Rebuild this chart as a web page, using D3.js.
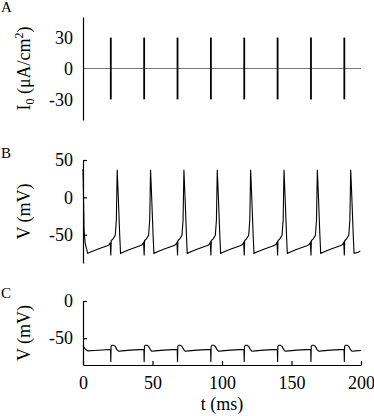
<!DOCTYPE html>
<html>
<head>
<meta charset="utf-8">
<script src="https://cdn.jsdelivr.net/npm/d3@7"></script>
<style>
body { margin: 0; background: #fff; }
svg { display: block; }
</style>
</head>
<body>
<div id="chart"></div>
<script>
// stimulus pulses (ms) and their amplitude (uA/cm2)
var pulseTimes = [20, 44, 68, 92, 116, 140, 164, 188];
var pulseAmp = [-30, 30];

var ticksA = [-30, 0, 30];
var ticksB = [-50, 0, 50];
var ticksC = [-50, 0];
var ticksT = [0, 50, 100, 150, 200];

// B: membrane potential, firing
var traceB = [
  [0, 38], [0.8, -45], [1.6, -62], [3.4, -75], [6.4, -72.5], [10.4, -69.5], [14.4, -67], [17.4, -65], [18.9, -63.5], [19.6, -60.5],
  [20, -78], [20.3, -58], [21.5, -56], [23.2, -51], [24, -30], [24.6, 37], [25.4, 0], [26.4, -50], [27, -75], [30, -72.5], [34, -69.5], [38, -67], [41, -65], [42.5, -63.5], [43.6, -60.5],
  [44, -78], [44.3, -58], [45.5, -56], [47.2, -51], [48, -30], [48.6, 37], [49.4, 0], [50.4, -50], [51, -75], [54, -72.5], [58, -69.5], [62, -67], [65, -65], [66.5, -63.5], [67.6, -60.5],
  [68, -78], [68.3, -58], [69.5, -56], [71.2, -51], [72, -30], [72.6, 37], [73.4, 0], [74.4, -50], [75, -75], [78, -72.5], [82, -69.5], [86, -67], [89, -65], [90.5, -63.5], [91.6, -60.5],
  [92, -78], [92.3, -58], [93.5, -56], [95.2, -51], [96, -30], [96.6, 37], [97.4, 0], [98.4, -50], [99, -75], [102, -72.5], [106, -69.5], [110, -67], [113, -65], [114.5, -63.5], [115.6, -60.5],
  [116, -78], [116.3, -58], [117.5, -56], [119.2, -51], [120, -30], [120.6, 37], [121.4, 0], [122.4, -50], [123, -75], [126, -72.5], [130, -69.5], [134, -67], [137, -65], [138.5, -63.5], [139.6, -60.5],
  [140, -78], [140.3, -58], [141.5, -56], [143.2, -51], [144, -30], [144.6, 37], [145.4, 0], [146.4, -50], [147, -75], [150, -72.5], [154, -69.5], [158, -67], [161, -65], [162.5, -63.5], [163.6, -60.5],
  [164, -78], [164.3, -58], [165.5, -56], [167.2, -51], [168, -30], [168.6, 37], [169.4, 0], [170.4, -50], [171, -75], [174, -72.5], [178, -69.5], [182, -67], [185, -65], [186.5, -63.5], [187.6, -60.5],
  [188, -78], [188.3, -58], [189.5, -56], [191.2, -51], [192, -30], [192.6, 37], [193.4, 0], [194.4, -50], [195, -75], [198, -73.5], [199.5, -72]
];

// C: membrane potential, subthreshold
var traceC = [
  [0, -60], [1.5, -64.5], [3.5, -67], [8, -66.5], [14, -65.8], [19.8, -65],
  [20, -82], [20.2, -61], [20.8, -59.5], [22, -59.5], [23.2, -61], [24.3, -65], [25.5, -67.5], [28, -67], [34, -66], [43.8, -65],
  [44, -82], [44.2, -61], [44.8, -59.5], [46, -59.5], [47.2, -61], [48.3, -65], [49.5, -67.5], [52, -67], [58, -66], [67.8, -65],
  [68, -82], [68.2, -61], [68.8, -59.5], [70, -59.5], [71.2, -61], [72.3, -65], [73.5, -67.5], [76, -67], [82, -66], [91.8, -65],
  [92, -82], [92.2, -61], [92.8, -59.5], [94, -59.5], [95.2, -61], [96.3, -65], [97.5, -67.5], [100, -67], [106, -66], [115.8, -65],
  [116, -82], [116.2, -61], [116.8, -59.5], [118, -59.5], [119.2, -61], [120.3, -65], [121.5, -67.5], [124, -67], [130, -66], [139.8, -65],
  [140, -82], [140.2, -61], [140.8, -59.5], [142, -59.5], [143.2, -61], [144.3, -65], [145.5, -67.5], [148, -67], [154, -66], [163.8, -65],
  [164, -82], [164.2, -61], [164.8, -59.5], [166, -59.5], [167.2, -61], [168.3, -65], [169.5, -67.5], [172, -67], [178, -66], [187.8, -65],
  [188, -82], [188.2, -61], [188.8, -59.5], [190, -59.5], [191.2, -61], [192.3, -65], [193.5, -67.5], [196, -67], [200, -66.5]
];

var font = '"Liberation Serif", "Times New Roman", serif';
var fmt = d => String(d); // plain hyphen for negatives, like the original

var svg = d3.select('#chart').append('svg')
    .attr('width', 374)
    .attr('height', 416);

var x = d3.scaleLinear().domain([0, 200]).range([83, 361]);
var yA = d3.scaleLinear().domain([-50, 50]).range([120, 17]);
var yB = d3.scaleLinear().domain([-88, 50]).range([263, 160]);
var yC = d3.scaleLinear().domain([-86, 0]).range([365, 301]);

function styleAxis(g) {
    g.attr('font-family', font).attr('font-size', 18);
    g.select('.domain').attr('stroke-width', 1.2);
    g.selectAll('.tick line').attr('stroke-width', 1.2);
}

// ---- A
svg.append('path')
    .attr('d', d3.line().x(d => x(d[0])).y(d => yA(d[1]))(x.domain().map(t => [t, 0])))
    .attr('fill', 'none')
    .attr('stroke', '#777')
    .attr('stroke-width', 1);

svg.append('g').selectAll('path')
    .data(pulseTimes)
    .enter()
    .append('path')
    .attr('d', p => d3.line().x(d => x(d[0])).y(d => yA(d[1]))(pulseAmp.map(a => [p, a])))
    .attr('stroke', '#000')
    .attr('stroke-width', 1.8);

svg.append('g')
    .attr('transform', 'translate(83,0)')
    .call(d3.axisLeft(yA).tickValues(ticksA).tickFormat(fmt).tickSize(0).tickPadding(10))
    .call(styleAxis);

// ---- B
svg.append('path')
    .attr('d', d3.line().x(d => x(d[0])).y(d => yB(d[1]))(traceB))
    .attr('fill', 'none')
    .attr('stroke', '#000')
    .attr('stroke-width', 1.1);

svg.append('g')
    .attr('transform', 'translate(83,0)')
    .call(d3.axisLeft(yB).tickValues(ticksB).tickFormat(fmt).tickSizeInner(-4).tickSizeOuter(0).tickPadding(10))
    .call(styleAxis);

// ---- C
svg.append('path')
    .attr('d', d3.line().x(d => x(d[0])).y(d => yC(d[1]))(traceC))
    .attr('fill', 'none')
    .attr('stroke', '#000')
    .attr('stroke-width', 1.1);

svg.append('g')
    .attr('transform', 'translate(83,0)')
    .call(d3.axisLeft(yC).tickValues(ticksC).tickFormat(fmt).tickSizeInner(-4).tickSizeOuter(0).tickPadding(10))
    .call(styleAxis);

svg.append('g')
    .attr('transform', 'translate(0,365)')
    .call(d3.axisBottom(x).tickValues(ticksT).tickFormat(fmt).tickSizeInner(-4).tickSizeOuter(0).tickPadding(11))
    .call(styleAxis);

// panel letters
svg.append('g')
    .selectAll('text')
    .data([['A', 12], ['B', 158], ['C', 298]])
    .enter()
    .append('text')
    .attr('x', 1)
    .attr('y', d => d[1])
    .attr('font-family', font)
    .attr('font-size', 15)
    .text(d => d[0]);

// y titles
var ia = svg.append('text')
    .attr('transform', 'translate(30,' + yA(0) + ') rotate(-90)')
    .attr('text-anchor', 'middle')
    .attr('font-family', font)
    .attr('font-size', 18);
ia.append('tspan').text('I');
ia.append('tspan').attr('font-size', 12).attr('dy', 4).text('0');
ia.append('tspan').attr('dy', -4).text(' (\u03bcA/cm');
ia.append('tspan').attr('font-size', 12).attr('dy', -7).text('2');
ia.append('tspan').attr('dy', 7).text(')');

svg.append('text')
    .attr('transform', 'translate(30,' + (yB.range()[0] + yB.range()[1]) / 2 + ') rotate(-90)')
    .attr('text-anchor', 'middle')
    .attr('font-family', font)
    .attr('font-size', 18)
    .text('V (mV)');

svg.append('text')
    .attr('transform', 'translate(30,' + (yC.range()[0] + yC.range()[1]) / 2 + ') rotate(-90)')
    .attr('text-anchor', 'middle')
    .attr('font-family', font)
    .attr('font-size', 18)
    .text('V (mV)');

svg.append('text')
    .attr('x', (x.range()[0] + x.range()[1]) / 2)
    .attr('y', 410)
    .attr('text-anchor', 'middle')
    .attr('font-family', font)
    .attr('font-size', 18)
    .text('t (ms)');
</script>
</body>
</html>
